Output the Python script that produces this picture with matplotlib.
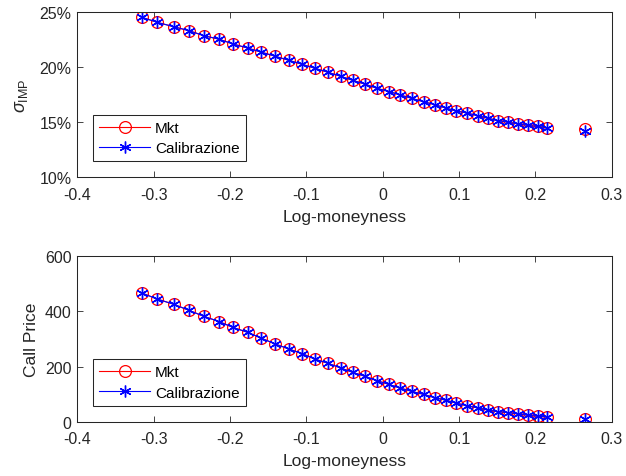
import matplotlib
matplotlib.use("Agg")
import matplotlib.pyplot as plt
from matplotlib.ticker import FuncFormatter

# Log-moneyness of the quoted strikes
log_moneyness = [
    -0.3157, -0.2953, -0.2738, -0.2537, -0.2341, -0.2140, -0.1961, -0.1768,
    -0.1590, -0.1407, -0.1231, -0.1053, -0.0887, -0.0717, -0.0550, -0.0393,
    -0.0236, -0.0075, 0.0083, 0.0231, 0.0380, 0.0537, 0.0685, 0.0825,
    0.0960, 0.1100, 0.1244, 0.1383, 0.1514, 0.1645, 0.1776, 0.1903,
    0.2030, 0.2156, 0.2646,
]

# Implied volatility (%): market quotes and calibrated model
vol_mkt = [
    24.55, 24.09, 23.69, 23.33, 22.87, 22.55, 22.12, 21.75,
    21.38, 21.00, 20.64, 20.27, 19.91, 19.55, 19.18, 18.82,
    18.48, 18.09, 17.80, 17.48, 17.18, 16.87, 16.60, 16.30,
    16.03, 15.85, 15.60, 15.36, 15.15, 15.00, 14.85, 14.72,
    14.62, 14.50, 14.39,
]
vol_cal = [
    24.55, 24.09, 23.69, 23.33, 22.87, 22.55, 22.12, 21.75,
    21.38, 21.00, 20.64, 20.27, 19.91, 19.55, 19.18, 18.82,
    18.48, 18.09, 17.80, 17.48, 17.18, 16.87, 16.60, 16.30,
    16.03, 15.85, 15.60, 15.36, 15.15, 15.00, 14.85, 14.72,
    14.62, 14.50, 14.22,
]

# Call prices: market and calibrated model
price_mkt = [
    467, 445, 426, 404, 382, 363, 342, 324,
    303, 282, 264, 247, 227, 212, 195, 179,
    165, 149, 135, 122, 110, 99, 87, 78,
    68, 58, 50, 42, 36, 33, 28, 23.5,
    20, 17, 8,
]
price_cal = list(price_mkt)

# The far out-of-the-money quote is shown on its own, not joined by the line
n_joined = 34

x_ticks = [-0.4, -0.3, -0.2, -0.1, 0, 0.1, 0.2, 0.3]
vol_ticks = [10, 15, 20, 25]
price_ticks = [0, 200, 400, 600]

plt.rcParams["font.family"] = ["Liberation Sans", "DejaVu Sans"]
plt.rcParams["mathtext.fontset"] = "custom"
plt.rcParams["mathtext.rm"] = "Liberation Sans"
plt.rcParams["mathtext.it"] = "Liberation Sans:italic"
plt.rcParams["axes.unicode_minus"] = False

TXT = "#262626"
W, H = 626, 477
fig = plt.figure(figsize=(W / 100, H / 100), dpi=100)

ax1 = fig.add_axes([77.3 / W, 1 - 178.3 / H, 534.4 / W, 165.0 / H])
ax2 = fig.add_axes([77.3 / W, 1 - 422.7 / H, 534.4 / W, 165.4 / H])


def style(ax):
    ax.tick_params(direction="in", length=4.5, width=0.6, colors=TXT,
                   labelsize=11.5, top=True, right=True)
    ax.tick_params(axis="x", pad=7)
    ax.tick_params(axis="y", pad=4)
    for s in ax.spines.values():
        s.set_color(TXT)
        s.set_linewidth(0.75)
    ax.set_xlim(-0.4, 0.3)
    ax.set_xticks(x_ticks)
    ax.xaxis.set_major_formatter(FuncFormatter(lambda v, p: f"{v:g}"))
    ax.set_xlabel("Log-moneyness", fontsize=12.5, color=TXT, labelpad=5)


def draw(ax, y_mkt, y_cal):
    mkt_style = dict(color="red", lw=0.8, marker="o", ms=8.5, mfc="none",
                     mec="red", mew=0.9)
    cal_style = dict(color="blue", lw=0.8, marker=(6, 2, 0), ms=8.5,
                     mec="blue", mew=1.0)
    ax.plot(log_moneyness[:n_joined], y_mkt[:n_joined], label="Mkt", **mkt_style)
    ax.plot(log_moneyness[n_joined:], y_mkt[n_joined:], ls="none",
            **{k: v for k, v in mkt_style.items() if k != "lw"})
    ax.plot(log_moneyness[:n_joined], y_cal[:n_joined], label="Calibrazione",
            **cal_style)
    ax.plot(log_moneyness[n_joined:], y_cal[n_joined:], ls="none",
            **{k: v for k, v in cal_style.items() if k != "lw"})
    leg = ax.legend(loc="lower left", bbox_to_anchor=(16.0 / 534.4, 16.0 / 165.0),
                    fontsize=11, frameon=True, fancybox=False, framealpha=1,
                    edgecolor=TXT, borderpad=0.4, handlelength=3.3,
                    handletextpad=0.35, labelspacing=0.4, borderaxespad=0)
    leg.get_frame().set_linewidth(0.75)
    for t in leg.get_texts():
        t.set_color("black")


draw(ax1, vol_mkt, vol_cal)
style(ax1)
ax1.set_ylim(10, 25)
ax1.set_yticks(vol_ticks)
ax1.yaxis.set_major_formatter(FuncFormatter(lambda v, p: f"{v:g}%"))
ax1.set_ylabel(r"$\sigma_{\mathrm{IMP}}$", fontsize=13, color=TXT, labelpad=7)

draw(ax2, price_mkt, price_cal)
style(ax2)
ax2.set_ylim(0, 600)
ax2.set_yticks(price_ticks)
ax2.set_ylabel("Call Price", fontsize=12.5, color=TXT, labelpad=4)

fig.savefig("out.png", dpi=100, facecolor="white")
